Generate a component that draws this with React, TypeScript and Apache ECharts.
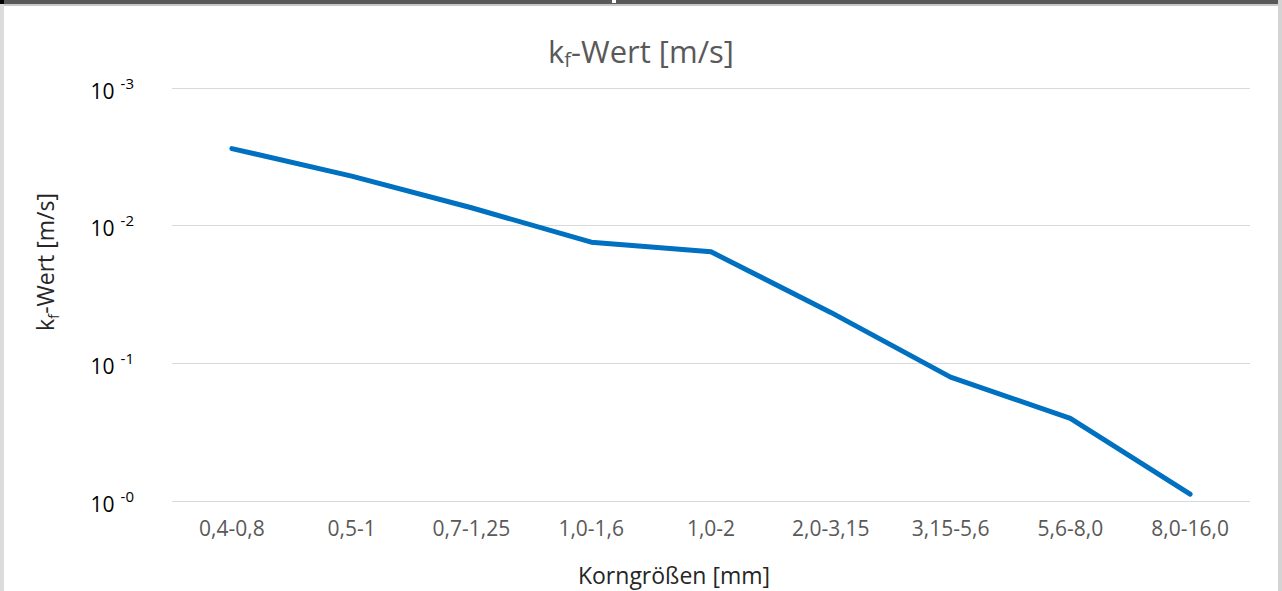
import React, { useEffect, useRef } from "react";
import * as echarts from "echarts";

const categories = ["0,4-0,8", "0,5-1", "0,7-1,25", "1,0-1,6", "1,0-2", "2,0-3,15", "3,15-5,6", "5,6-8,0", "8,0-16,0"];
// exponent position: 0 = 10^-0 (bottom), 3 = 10^-3 (top)
const values = [2.56, 2.36, 2.13, 1.88, 1.81, 1.37, 0.9, 0.6, 0.05];
const yTicks = [0, 1, 2, 3];
const titleMain = "k";
const titleSub = "f";
const titleRest = "-Wert [m/s]";
const xAxisTitle = "Korngrößen [mm]";

const FONT = "'Open Sans', 'Noto Sans', sans-serif";

export default function App() {
  const ref = useRef<HTMLDivElement>(null);
  useEffect(() => {
    if (!ref.current) return;
    const chart = echarts.init(ref.current, null, { renderer: "svg" });
    chart.setOption({
      animation: false,
      backgroundColor: "#ffffff",
      textStyle: { fontFamily: FONT },
      title: {
        text: `{a|${titleMain}}{b|${titleSub}}{a|${titleRest}}`,
        left: 641,
        top: 35,
        padding: 0,
        textAlign: "center",
        textStyle: {
          fontWeight: "normal",
          rich: {
            a: { fontSize: 31, lineHeight: 36, color: "#595959", fontFamily: FONT, fontWeight: "normal", verticalAlign: "top" },
            b: { fontSize: 20, lineHeight: 36, padding: [14, 0, 0, 0], color: "#595959", fontFamily: FONT, fontWeight: "normal", verticalAlign: "top" },
          },
        },
      },
      grid: { left: 172, right: 32, top: 88, bottom: 90, containLabel: false },
      xAxis: {
        type: "category",
        data: categories,
        boundaryGap: true,
        axisLine: { show: false },
        axisTick: { show: false },
        axisLabel: { color: "#595959", fontSize: 21, fontFamily: FONT, margin: 16, interval: 0 },
        splitLine: { show: false },
      },
      yAxis: {
        type: "value",
        min: 0,
        max: 3,
        interval: 1,
        axisLine: { show: false },
        axisTick: { show: false },
        splitLine: { show: true, lineStyle: { color: "#d9d9d9", width: 1 } },
        axisLabel: {
          margin: 38,
          formatter: (v: number) => (yTicks.includes(v) ? `{a|10}{b|-${v}}` : ""),
          rich: {
            a: { fontSize: 21, lineHeight: 26, color: "#000000", fontFamily: FONT, verticalAlign: "bottom" },
            b: { fontSize: 15, lineHeight: 15, padding: [0, 0, 11, 6], color: "#000000", fontFamily: FONT, verticalAlign: "bottom" },
          },
        },
      },
      series: [
        {
          type: "line",
          data: values,
          symbol: "none",
          lineStyle: { color: "#0070C0", width: 5, cap: "round", join: "round" },
        },
      ],
      graphic: [
        { type: "rect", shape: { x: 0, y: 0, width: 1282, height: 4 }, style: { fill: "#595959" }, z: 10 },
        { type: "rect", shape: { x: 0, y: 4, width: 1282, height: 2 }, style: { fill: "#c8c8c8" }, z: 10 },
        { type: "rect", shape: { x: 0, y: 0, width: 4, height: 591 }, style: { fill: "#dcdcdc" }, z: 10 },
        { type: "rect", shape: { x: 0, y: 0, width: 4, height: 4 }, style: { fill: "#000000" }, z: 11 },
        { type: "rect", shape: { x: 1278, y: 0, width: 4, height: 591 }, style: { fill: "#d4d4d4" }, z: 10 },
        { type: "rect", shape: { x: 612, y: 0, width: 4, height: 3 }, style: { fill: "#ffffff" }, z: 11 },
        {
          type: "text",
          x: 674,
          y: 575,
          style: { text: xAxisTitle, font: `23px ${FONT}`, fill: "#262626", align: "center", verticalAlign: "middle" },
        },
        {
          type: "text",
          x: 48,
          y: 262,
          rotation: Math.PI / 2,
          style: {
            text: `{a|${titleMain}}{b|${titleSub}}{a|${titleRest}}`,
            align: "center",
            verticalAlign: "middle",
            rich: {
              a: { fontSize: 23, lineHeight: 30, fill: "#262626", fontFamily: FONT, verticalAlign: "top" },
              b: { fontSize: 15, lineHeight: 30, padding: [12, 0, 0, 0], fill: "#262626", fontFamily: FONT, verticalAlign: "top" },
            },
          },
        },
      ],
    });
    return () => chart.dispose();
  }, []);
  return <div ref={ref} style={{ position: "fixed", left: 0, top: 0, width: 1282, height: 591 }} />;
}
